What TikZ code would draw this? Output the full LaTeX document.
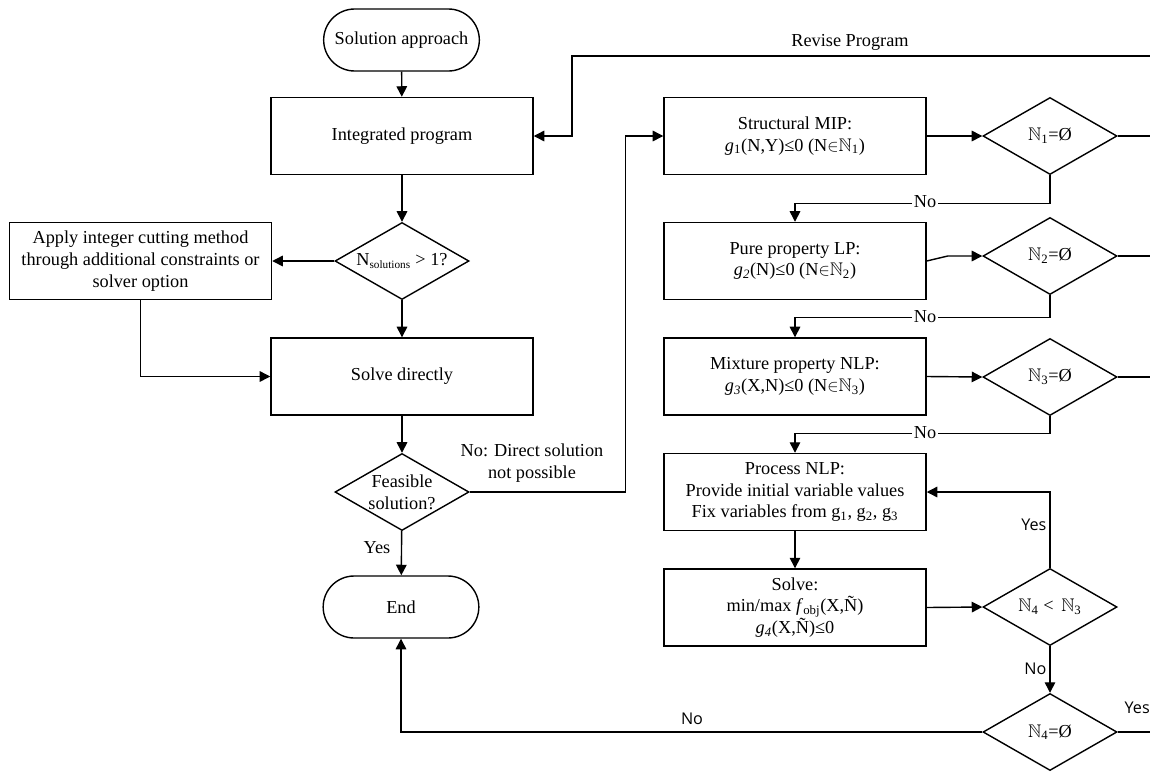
\documentclass[tikz,border=0pt]{standalone}
\usepackage{fontspec}
\usepackage{amssymb}
\setmainfont{Liberation Serif}
\newfontfamily\ynfont{Open Sans}
\usetikzlibrary{shapes.geometric,shapes.misc,arrows.meta}
\newcommand{\ftext}{\fontsize{13}{15.5}\selectfont}
\newcommand{\setN}[1]{$\mathbb{N}$\textsubscript{#1}}
\tikzstyle{pblock} = [draw, rectangle, line width=1pt, minimum width=6.55cm,
    minimum height=1.925cm, align=center, inner sep=2pt, font=\ftext]
\tikzstyle{tblock} = [draw, rounded rectangle, line width=1pt, minimum width=4.125cm,
    minimum height=1.55cm, font=\ftext]
\tikzstyle{dblock} = [draw, diamond, line width=1pt, minimum width=3.35cm,
    minimum height=1.925cm, inner sep=0pt, aspect=1.74]
\tikzstyle{dtext} = [align=center, inner sep=0pt, font=\ftext]
\tikzstyle{arr} = [-{Triangle[length=7.5pt,width=7.5pt]}, line width=1pt]
\tikzstyle{lnk} = [line width=1pt]
\tikzstyle{notext} = [fill=white, inner sep=1pt, font=\ftext]
\tikzstyle{yntext} = [inner sep=1pt, font=\ynfont\fontsize{11.5}{14}\selectfont]
\newcommand{\decision}[3]{
    \node(#1) at (#2) [dblock] {};
    \node(#1-t) at (#1) [dtext] {#3};
}

\begin{document}
\begin{tikzpicture}[x=0.025cm, y=-0.025cm]
	\useasboundingbox (0,0) rectangle (1150,771);

	% left column
	\node(start) at (401.5,40) [tblock] {Solution approach};
	\node(integ) at (402,136) [pblock] {Integrated program};
	\decision{nsol}{402,261}{N\textsubscript{\fontsize{8}{8}\selectfont solutions} > 1?}
	\node(apply) at (140.5,261) [pblock] {Apply integer cutting method\\through additional constraints or\\solver option};
	\node(solved) at (402,376.5) [pblock] {Solve directly};
	\decision{feas}{402,492}{Feasible\\solution?}
	\node(end) at (401,607) [tblock] {End};

	% right column
	\node(smip) at (795,136) [pblock] {Structural MIP:\\\textit{g}\textsubscript{1}(N,Y)≤0 (N$\in$\setN{1})};
	\decision{d1}{1050,136}{\setN{1}=Ø}
	\node(pure) at (795,261) [pblock] {Pure property LP:\\\textit{g}\textsubscript{\textit{2}}(N)≤0 (N$\in$\setN{2})};
	\decision{d2}{1050,256}{\setN{2}=Ø}
	\node(mix) at (795,376.5) [pblock] {Mixture property NLP:\\\textit{g}\textsubscript{\textit{3}}(X,N)≤0 (N$\in$\setN{3})};
	\decision{d3}{1050,377}{\setN{3}=Ø}
	\node(proc) at (795,492) [pblock] {Process NLP:\\Provide initial variable values\\Fix variables from g\textsubscript{1}, g\textsubscript{2}, g\textsubscript{3}};
	\node(solve) at (795,607.5) [pblock] {Solve:\\min/max \textit{f}\textsubscript{obj}(X,Ñ)\\\textit{g}\textsubscript{\textit{4}}(X,Ñ)≤0};
	\decision{d4}{1050,607}{\setN{4} <\, \setN{3}}
	\decision{d5}{1050,732}{\setN{4}=Ø}

	% loose ends at the right border
	\coordinate(rev) at (1150,56);
	\coordinate(e1) at (1150,136);
	\coordinate(e2) at (1150,256);
	\coordinate(e3) at (1150,377);
	\coordinate(e5) at (1150,732);

	% connectors
	\draw[arr] (start) -- (integ);
	\draw[arr] (integ) -- (nsol);
	\draw[arr] (nsol.west) -- (apply.east);
	\draw[arr] (nsol) -- (solved);
	\draw[arr] (apply.south) |- (solved.west);
	\draw[arr] (solved) -- (feas);
	\draw[arr] (feas) -- (end);
	\node(yes1) at (377,548) [font=\ftext] {Yes};
	\draw[arr] (feas.east) -- ++(156,0) |- (smip.west);
	\node(nodir) at (532,463) [align=center, font=\ftext] {No: Direct solution\\not possible};
	\draw[arr] (rev) -- ++(-578,0) |- (integ.east);
	\node(revt) at (850,42) [font=\ftext] {Revise Program};

	\draw[arr] (smip.east) -- (d1.west);
	\draw[lnk] (d1.east) -- (e1);
	\draw[arr] (d1.south) -- ++(0,28) -| (pure.north);
	\node(no1) at (925,202) [notext] {No};
	\draw[arr] (pure.east) -- ++(21,-5) -- (d2.west);
	\draw[lnk] (d2.east) -- (e2);
	\draw[arr] (d2.south) -- ++(0,22.5) -| (mix.north);
	\node(no2) at (925,317) [notext] {No};
	\draw[arr] (mix.east) -- (d3.west);
	\draw[lnk] (d3.east) -- (e3);
	\draw[arr] (d3.south) -- ++(0,17) -| (proc.north);
	\node(no3) at (925,432.5) [notext] {No};
	\draw[arr] (proc) -- (solve);
	\draw[arr] (solve.east) -- (d4.west);
	\draw[arr] (d4.north) |- (proc.east);
	\node(yes2) at (1048,525) [yntext, anchor=east] {Yes};
	\draw[arr] (d4.south) -- (d5.north);
	\node(no4) at (1048,669) [yntext, anchor=east] {No};
	\draw[lnk] (d5.east) -- (e5);
	\node(yes3) at (1150,708) [yntext, inner sep=0pt, anchor=east] {Yes};
	\draw[arr] (d5.west) -| (end.south);
	\node(no5) at (692,719) [yntext] {No};
\end{tikzpicture}
\end{document}
